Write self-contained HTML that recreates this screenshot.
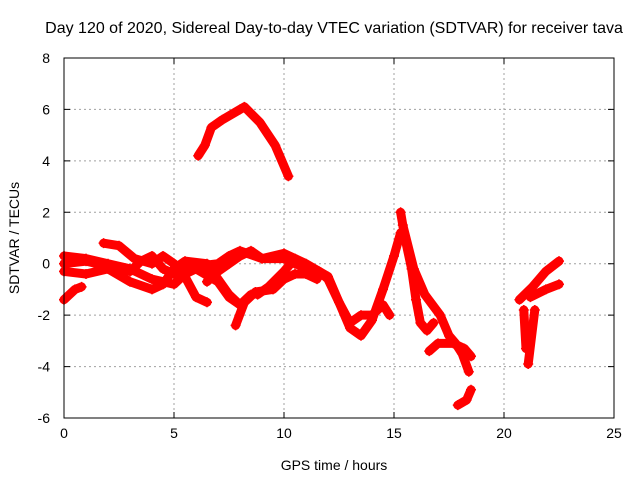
<!DOCTYPE html>
<html><head><meta charset="utf-8"><style>
body{margin:0;background:#fff}
svg text{font-family:"Liberation Sans",sans-serif;font-size:14px;fill:#000}
</style></head><body>
<svg id="chart" width="640" height="480" xmlns="http://www.w3.org/2000/svg">
<text x="334" y="33" text-anchor="middle" style="font-size:16px">Day 120 of 2020, Sidereal Day-to-day VTEC variation (SDTVAR) for receiver tava</text>
<text x="334" y="470" text-anchor="middle">GPS time / hours</text>
<text transform="translate(19,238) rotate(-90)" text-anchor="middle">SDTVAR / TECUs</text>
<g id="grid"></g><g id="ticks"></g><g id="marks"></g>
<rect x="64" y="58" width="550" height="360" fill="none" stroke="#000" stroke-width="1"/>
</svg>
<script>
const xTicks=[0,5,10,15,20,25];
const yTicks=[-6,-4,-2,0,2,4,6,8];
const trackArc=[[6.1,4.2],[6.4,4.6],[6.7,5.3],[7.2,5.6],[8.0,6.0],[8.2,6.1],[8.9,5.5],[9.6,4.6],[10.2,3.4]];
const trackA=[[0,0.3],[1,0.2],[2,0],[3,-0.2],[4,-0.6],[5,-0.8],[5.5,-0.4],[6,-0.2],[7,-0.7],[7.5,-1.3],[8,-1.6]];
const trackB=[[1.8,0.8],[2.5,0.7],[3.2,0.2],[4,0],[4.5,0.3],[5,0],[5.5,-0.5],[6,-1.3],[6.5,-1.5]];
const trackC=[[0,-0.3],[1,-0.4],[2,-0.2],[3,-0.7],[4,-1.0],[4.5,-0.8],[5,-0.2],[5.5,0.1],[6.5,0],[7,-0.6],[7.5,-1.2],[8,-1.6],[8.5,-1.2]];
const trackD=[[0,0],[1,0.1],[2,-0.1],[3,-0.3],[3.5,0.1],[4,0.3],[4.5,-0.2],[5,-0.4],[6,-0.1],[7,0],[7.5,0.3],[8,0.5],[9,0.2],[10,0.4],[11,0],[12,-0.5],[12.5,-1.5],[13,-2.5],[13.5,-2.8],[14,-2.2],[14.5,-1.0],[15,0.3],[15.3,1.2]];
const trackE=[[6.5,-0.7],[7,-0.3],[7.5,0],[8,0.3],[8.5,0.5],[9,0.2],[10,0.2],[10.5,0],[11.2,-0.2]];
const trackF=[[7.8,-2.4],[8.2,-1.5],[8.7,-1.1],[9.5,-1],[10,-0.6],[10.5,-0.4],[11,-0.4],[11.5,-0.6]];
const trackG=[[8.8,-1.2],[9.3,-0.9],[10,-0.3],[10.5,0.2],[11,-0.2],[11.6,-0.3],[12,-0.6],[12.5,-1.5],[13,-2.3],[13.5,-2],[14,-2],[14.5,-1.6],[14.8,-2]];
const trackH=[[0,-1.4],[0.5,-1.0],[0.8,-0.9]];
const trackI=[[15.3,2],[15.5,1.0],[15.8,-0.2],[16,-1.4],[16.2,-2.3],[16.5,-2.6],[16.8,-2.3]];
const trackJ=[[15.4,1.5],[15.9,-0.2],[16.4,-1.2],[17.1,-2.0],[17.5,-2.8],[17.8,-3.1],[18.1,-3.5],[18.4,-4.2]];
const trackK=[[16.6,-3.4],[17.0,-3.1],[17.7,-3.1],[18.2,-3.3],[18.5,-3.6]];
const trackL=[[17.9,-5.5],[18.3,-5.3],[18.5,-4.9]];
const trackM=[[20.7,-1.4],[21.3,-0.9],[21.9,-0.3],[22.5,0.1]];
const trackN=[[21.2,-1.3],[21.9,-1.0],[22.5,-0.8]];
const trackO=[[20.9,-1.8],[21.0,-3.3]];
const trackP=[[21.4,-1.8],[21.1,-3.9]];
const tracks=[trackArc,trackA,trackB,trackC,trackD,trackE,trackF,trackG,trackH,trackI,trackJ,trackK,trackL,trackM,trackN,trackO,trackP];

const NS="http://www.w3.org/2000/svg";
const x0=64,x1=614,y0=418,y1=58,xmin=0,xmax=25,ymin=-6,ymax=8;
const X=v=>x0+(v-xmin)/(xmax-xmin)*(x1-x0);
const Y=v=>y0-(v-ymin)/(ymax-ymin)*(y0-y1);
function mk(t,a,p){const e=document.createElementNS(NS,t);for(const k in a)e.setAttribute(k,a[k]);p.appendChild(e);return e;}
const grid=document.getElementById('grid'),ticks=document.getElementById('ticks'),marks=document.getElementById('marks');
xTicks.forEach(t=>{
  const x=X(t);
  if(t>xmin&&t<xmax){const g=mk('line',{x1:x,x2:x,y1:y1,y2:y0,stroke:'#a0a0a0','stroke-dasharray':'2,3'},grid);
  
  }
  const tk=mk('path',{d:`M${x},${y0}v-6M${x},${y1}v6`,stroke:'#000'},ticks);
  
  
  const l=mk('text',{x:x,y:y0+20,'text-anchor':'middle'},ticks);l.textContent=t;
  
  
});
yTicks.forEach(t=>{
  const y=Y(t);
  if(t>ymin&&t<ymax){const g=mk('line',{x1:x0,x2:x1,y1:y,y2:y,stroke:'#a0a0a0','stroke-dasharray':'2,3'},grid);
  
  }
  const tk=mk('path',{d:`M${x0},${y}h6M${x1},${y}h-6`,stroke:'#000'},ticks);
  
  
  const l=mk('text',{x:x0-14,y:y+5,'text-anchor':'end'},ticks);l.textContent=t;
  
  
});
tracks.forEach((tr,i)=>{
  const pl=mk('polyline',{points:tr.map(p=>X(p[0])+','+Y(p[1])).join(' '),fill:'none',stroke:'#ff0000','stroke-width':9,'stroke-linejoin':'round','stroke-linecap':'round'},marks);
  
  
  tr.forEach(p=>{
    const m=mk('path',{d:`M${X(p[0])-5},${Y(p[1])}h10M${X(p[0])},${Y(p[1])-5}v10`,stroke:'#ff0000','stroke-width':1.5},marks);
    
    
  });
});
</script>
</body></html>
